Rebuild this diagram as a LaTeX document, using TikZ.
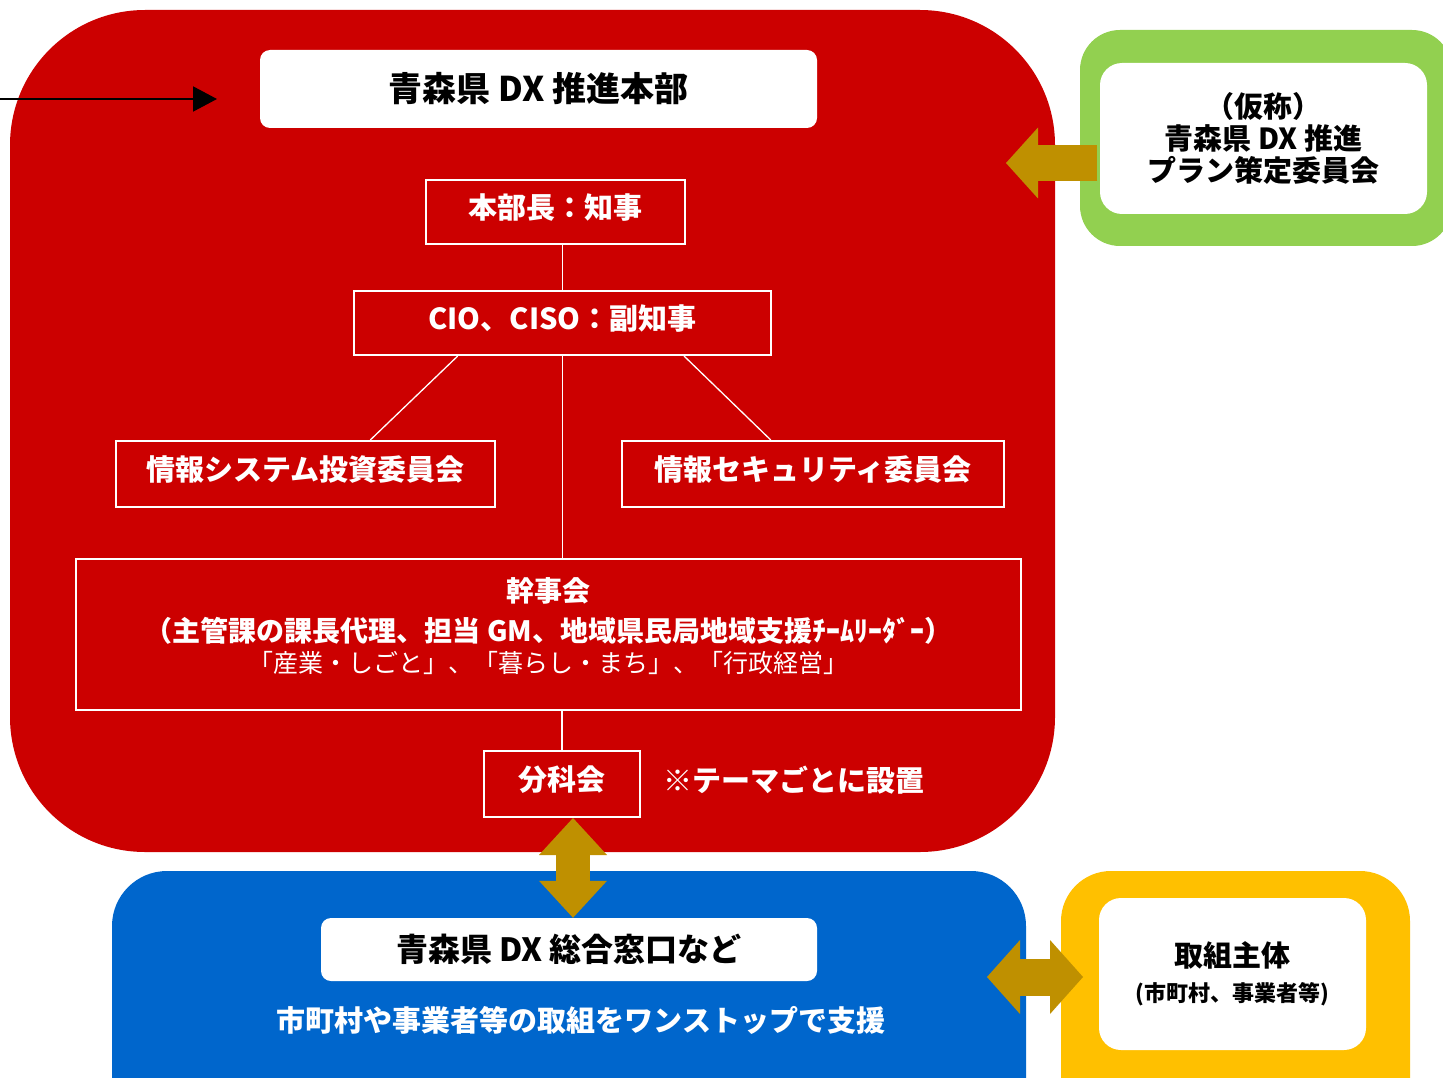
\documentclass[tikz,border=0pt]{standalone}
\usepackage{fontspec}
\setmainfont{Noto Sans CJK JP}
\usepackage{tikz}
\usetikzlibrary{arrows.meta, positioning, calc}
\definecolor{dxred}{RGB}{204,0,0}
\definecolor{dxblue}{RGB}{0,102,204}
\definecolor{dxgreen}{RGB}{146,208,80}
\definecolor{dxyellow}{RGB}{255,192,0}
\definecolor{dxgold}{RGB}{191,144,0}
\newcommand{\jpsize}[2]{\fontsize{#1}{#2}\selectfont}

\begin{document}
\begin{tikzpicture}[
  x=1pt, y=-1pt,
  whitebox/.style={rectangle, rounded corners=10pt, fill=white, text=black,
              align=center, inner sep=0pt, font=\bfseries\jpsize{29}{32}},
  redbox/.style={rectangle, draw=white, line width=2pt, text=white, text depth=12pt,
              align=center, inner sep=0pt, font=\bfseries\jpsize{29}{36}},
  label/.style={text=white, inner sep=0pt, font=\bfseries\jpsize{29}{36}},
  link/.style={white, line width=1.3pt},
  fatarr/.style={dxgold, line width=#1},
]
\useasboundingbox (0,0) rectangle (1443,1078);
\clip (0,0) rectangle (1443,1078);

\fill[dxred, rounded corners=135pt] (10,10) rectangle (1055,852);
\fill[dxgreen, rounded corners=40pt] (1080,30) rectangle (1452,246);
\fill[dxblue, rounded corners=55pt] (112,871) rectangle (1026,1140);
\fill[dxyellow, rounded corners=50pt] (1061,871) rectangle (1410,1140);

\node[whitebox, minimum width=557pt, minimum height=78pt, font=\bfseries\jpsize{34}{40}] (hq) at (538.5,89) {青森県 DX 推進本部};

\node[redbox, minimum width=259pt, minimum height=64pt] (head) at (555.5,212) {本部長：知事};
\node[redbox, minimum width=417pt, minimum height=64pt, below=45pt of head, xshift=7pt] (cio) {CIO、CISO：副知事};

\node[redbox, minimum width=379pt, minimum height=66pt] (invest) at (305.5,474) {情報システム投資委員会};
\node[redbox, minimum width=382pt, minimum height=66pt] (security) at (813,474) {情報セキュリティ委員会};

\node[redbox, minimum width=945pt, minimum height=151pt, text depth=18pt, font=\bfseries\jpsize{28}{36}] (steering) at (548.5,634.5)
  {幹事会\\[4pt]（主管課の課長代理、担当 GM、地域県民局地域支援ﾁｰﾑﾘｰﾀﾞｰ）\\[-5pt]{\mdseries\jpsize{25}{32}「産業・しごと」、「暮らし・まち」、「行政経営」}};

\node[redbox, minimum width=156pt, minimum height=66pt, below=39pt of steering, xshift=13.5pt] (subcomm) {分科会};
\node[label, right=22pt of subcomm, yshift=4pt] (note) {※テーマごとに設置};

\node[whitebox, minimum width=496pt, minimum height=63pt, font=\bfseries\jpsize{32}{36}] (window) at (569,949.5) {青森県 DX 総合窓口など};
\node[label] (support) at (581,1020) {市町村や事業者等の取組をワンストップで支援};

\node[whitebox, rounded corners=22pt, minimum width=327pt, minimum height=151pt] (plan) at (1263.5,138.5)
  {（仮称）\\青森県 DX 推進\\プラン策定委員会};
\node[whitebox, rounded corners=22pt, minimum width=267pt, minimum height=152pt, font=\bfseries\jpsize{29}{35}] (entity) at (1232.5,974)
  {取組主体\\{\jpsize{22}{28}(市町村、事業者等)}};

\draw[link] (cio.north |- head.south) -- (cio.north);
\draw[link] ($(cio.south west)!0.25!(cio.south east)$) -- ($(invest.north west)!0.67!(invest.north east)$);
\draw[link] ($(cio.south west)!0.79!(cio.south east)$) -- ($(security.north west)!0.39!(security.north east)$);
\draw[link] (cio.south) -- (cio.south |- steering.north);
\draw[link] (subcomm.north |- steering.south) -- (subcomm.north);

\coordinate (feed) at (0,99);
\coordinate (feedtip) at (217,99);
\draw[line width=2pt, -{Triangle[length=24pt, width=25pt]}] (feed) -- (feedtip);

\coordinate (plantail) at (1097,163);
\coordinate (plantip) at (1006,163);
\draw[fatarr=36pt, -{Triangle[length=32pt, width=71pt, line width=0pt]}] (plantail) -- (plantip);

\draw[fatarr=34pt, {Triangle[length=37pt, width=68pt, line width=0pt]}-{Triangle[length=37pt, width=68pt, line width=0pt]}]
  ([xshift=4pt]window.north |- subcomm.south) -- ([xshift=4pt]window.north);

\coordinate (winside) at (987,977);
\coordinate (entside) at (1083,977);
\draw[fatarr=37pt, {Triangle[length=33pt, width=74pt, line width=0pt]}-{Triangle[length=33pt, width=74pt, line width=0pt]}] (winside) -- (entside);

\end{tikzpicture}
\end{document}
